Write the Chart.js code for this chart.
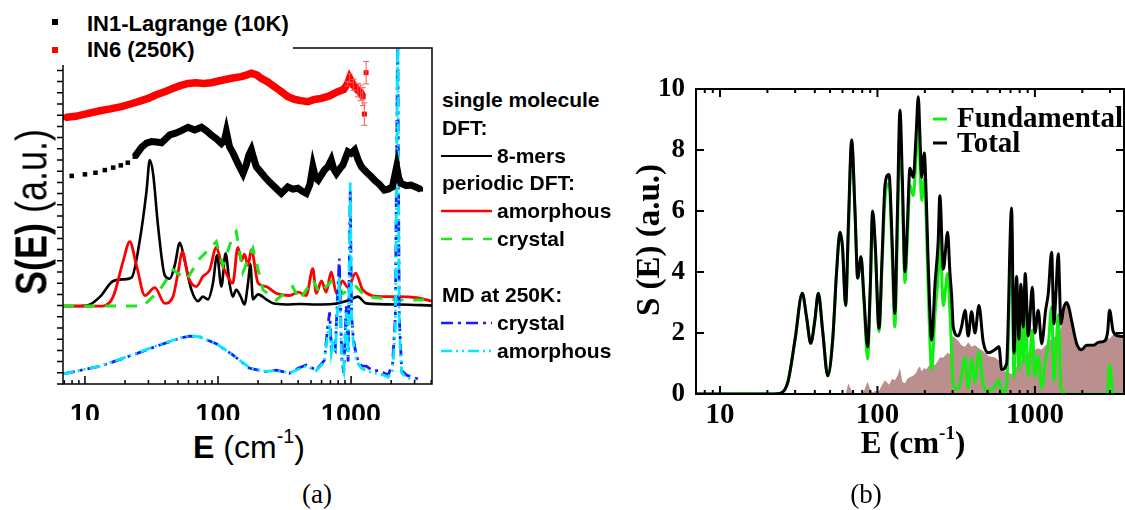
<!DOCTYPE html>
<html>
<head>
<meta charset="utf-8">
<title>S(E) spectra</title>
<script src="https://cdn.jsdelivr.net/npm/chart.js@4.4.1/dist/chart.umd.min.js"></script>
<style>
  body { margin: 0; background: #fff; }
  #fig { position: relative; width: 1125px; height: 510px; overflow: hidden; font-family: "Liberation Sans", Arial, sans-serif; color: #000; }
  canvas { position: absolute; }
  #chartA { left: 0; top: 0; }
  #chartB { left: 640px; top: 60px; }
  .abs { position: absolute; white-space: nowrap; }
  .lgA { font-weight: bold; font-size: 22px; line-height: 22px; }
  .lgR { font-weight: bold; font-size: 21px; line-height: 21px; }
  .serif { font-family: "Liberation Serif", "Times New Roman", serif; }
  sup { font-size: 0.62em; vertical-align: 0; position: relative; top: -0.75em; }
</style>
</head>
<body>
<div id="fig">
  <canvas id="chartA" width="440" height="420"></canvas>
  <canvas id="chartB" width="485" height="374"></canvas>

  <!-- legend of panel (a), top left (covers the frame there) -->
  <div class="abs" style="left:0;top:0;width:293px;height:65px;background:#fff"></div>
  <div class="abs" style="left:52px;top:19px;width:6px;height:6px;background:#000"></div>
  <div class="abs lgA" style="left:87px;top:13px">IN1-Lagrange (10K)</div>
  <div class="abs" style="left:52px;top:47px;width:6px;height:6px;background:#f00"></div>
  <div class="abs lgA" style="left:87px;top:39px">IN6 (250K)</div>

  <!-- legend of panel (a), right -->
  <svg class="abs" style="left:436px;top:140px" width="62" height="230">
    <line x1="5" y1="16" x2="56" y2="16" stroke="#000" stroke-width="2"/>
    <line x1="5" y1="71" x2="56" y2="71" stroke="#f00" stroke-width="2.5"/>
    <line x1="5" y1="99" x2="56" y2="99" stroke="#1ee61e" stroke-width="2.5" stroke-dasharray="11,10"/>
    <line x1="5" y1="183" x2="56" y2="183" stroke="#1a1aff" stroke-width="2.5" stroke-dasharray="12,5,3,5"/>
    <line x1="5" y1="211" x2="56" y2="211" stroke="#00e8ff" stroke-width="2.5" stroke-dasharray="11,4,2,4,2,4"/>
  </svg>
  <div class="abs lgR" style="left:442px;top:89px">single molecule</div>
  <div class="abs lgR" style="left:442px;top:117px">DFT:</div>
  <div class="abs lgR" style="left:497px;top:145px">8-mers</div>
  <div class="abs lgR" style="left:442px;top:172px">periodic DFT:</div>
  <div class="abs lgR" style="left:497px;top:200px">amorphous</div>
  <div class="abs lgR" style="left:497px;top:228px">crystal</div>
  <div class="abs lgR" style="left:442px;top:284px">MD at 250K:</div>
  <div class="abs lgR" style="left:497px;top:312px">crystal</div>
  <div class="abs lgR" style="left:497px;top:340px">amorphous</div>

  <!-- axis titles panel (a) -->
  <div class="abs" style="left:31px;top:212px;font-size:45px;line-height:45px;transform:translate(-50%,-50%) rotate(-90deg) scaleX(0.8)"><b>S(E)</b> (a.u.)</div>
  <div class="abs" style="left:249px;top:431px;font-size:32px;line-height:32px;transform:translateX(-50%)"><b>E</b> (cm<sup>-1</sup>)</div>

  <!-- legend of panel (b) -->
  <svg class="abs" style="left:930px;top:110px" width="20" height="40">
    <line x1="3" y1="9" x2="17" y2="9" stroke="#11ee11" stroke-width="3"/>
    <line x1="3" y1="33" x2="17" y2="33" stroke="#000" stroke-width="3"/>
  </svg>
  <div class="abs serif" style="left:957px;top:103px;font-size:29px;line-height:29px;font-weight:bold">Fundamental</div>
  <div class="abs serif" style="left:957px;top:128px;font-size:29px;line-height:29px;font-weight:bold">Total</div>

  <!-- axis titles panel (b) -->
  <div class="abs serif" style="left:648px;top:240px;font-size:33px;line-height:33px;font-weight:bold;transform:translate(-50%,-50%) rotate(-90deg)">S (E) (a.u.)</div>
  <div class="abs serif" style="left:913px;top:427px;font-size:31px;line-height:31px;font-weight:bold;transform:translateX(-50%)">E (cm<sup>-1</sup>)</div>

  <div class="abs serif" style="left:317px;top:481px;font-size:27px;line-height:27px;transform:translateX(-50%)">(a)</div>
  <div class="abs serif" style="left:866px;top:481px;font-size:27px;line-height:27px;transform:translateX(-50%)">(b)</div>
</div>

<script>
// ---------- panel (a) data ----------
const xTicks = [10, 100, 1000]

// IN6 (250K), red squares
const in6E = [7.08, 8.5, 10.6, 13, 15.5, 18.8, 22, 25.5, 29.9, 34, 39.8, 46, 52, 59.6, 68, 78, 89, 105, 126, 150,
  165, 178, 195, 211, 235, 266, 300, 335, 380, 420, 473, 530, 596, 680, 795, 880, 940, 975, 1040, 1125, 1180, 1224]
const in6S = [11.9, 11.95, 12.08, 12.2, 12.28, 12.38, 12.5, 12.62, 12.75, 12.9, 13.05, 13.2, 13.32, 13.42, 13.45, 13.42, 13.45, 13.55, 13.65, 13.72,
  13.8, 13.87, 13.8, 13.65, 13.5, 13.27, 13.05, 12.83, 12.7, 12.65, 12.6, 12.7, 12.75, 12.85, 13.05, 13.15, 13.4, 13.65, 13.35, 13.12, 13.0, 12.83]
const in6Err = [0, 0, 0, 0, 0, 0, 0, 0, 0, 0, 0, 0, 0, 0, 0, 0, 0, 0, 0, 0,
  0, 0, 0, 0, 0, 0, 0, 0, 0, 0, 0, 0, 0, 0, 0, 0, 0.1, 0.2, 0.25, 0.3, 0.35, 0.4]
const in6TailE = [1259, 1297]
const in6TailS = [12.05, 13.9]
const in6TailErr = [0.5, 0.5]

// IN1-Lagrange (10K), black squares
const in1E = [7.95, 10, 12, 14.1, 16.3, 18.6, 21, 23.7, 26.6, 29, 31.6, 34.5, 37.6, 40.5, 43.4, 48, 53, 59.6, 66.8, 75,
  82, 89, 97, 106, 112, 115.5, 122, 130, 137, 145, 154, 163, 170, 178, 186, 194, 210, 224, 245, 266,
  299, 335, 365, 398, 430, 460, 490, 516, 540, 565, 600, 631, 670, 709, 740, 776, 820, 868, 910, 947,
  1000, 1064, 1130, 1195, 1260, 1337, 1420, 1500, 1640, 1778, 1900, 2045, 2200, 2280, 2371, 2600, 2820, 3050, 3340]
const in1S = [9.29, 9.36, 9.43, 9.55, 9.66, 9.76, 9.88, 10.15, 10.56, 10.75, 10.82, 10.8, 10.77, 10.95, 11.12, 11.2, 11.31, 11.46, 11.34, 11.46,
  11.3, 11.12, 10.95, 10.74, 10.9, 11.26, 10.59, 10.3, 10.0, 9.7, 9.4, 9.78, 10.2, 10.45, 10.05, 9.7, 9.45, 9.25, 9.0, 8.8,
  8.51, 8.8, 8.7, 8.74, 8.6, 8.51, 8.9, 9.7, 9.2, 9.1, 9.35, 9.55, 9.7, 10.0, 9.6, 9.4, 9.6, 9.78, 10.1, 10.37,
  10.3, 10.45, 10.0, 9.7, 9.55, 9.4, 9.25, 9.1, 8.9, 8.66, 8.7, 8.8, 9.7, 9.2, 8.96, 8.85, 8.88, 8.8, 8.69]

// single molecule DFT, 8-mers
const merE = [6.84, 9.2, 10.9, 13, 16.3, 19.4, 22.4, 25.8, 29, 30.7, 32.5, 35.5, 39.8, 43.4, 47.3, 51.6, 56.2, 63.1, 70.8, 77,
  84, 91.6, 98.3, 106, 114, 122, 129, 137, 148, 158, 168, 175, 183, 200, 230, 259, 324, 410, 547, 728,
  977, 1125, 1295, 2326, 4055]
const merS = [3.48, 3.48, 3.55, 3.9, 4.6, 4.67, 4.75, 6.4, 8.6, 10.0, 9.4, 7.0, 4.85, 4.7, 5.3, 6.3, 5.5, 4.2, 3.7, 3.9,
  3.78, 4.5, 5.75, 4.35, 5.83, 4.5, 3.9, 4.2, 3.9, 3.55, 4.5, 5.35, 3.78, 4.0, 3.78, 3.6, 3.55, 3.57, 3.55, 3.57,
  3.75, 3.9, 3.6, 3.55, 3.5]

// periodic DFT, amorphous
const amoE = [6.84, 13.6, 16.3, 19.4, 21.7, 24.4, 28.2, 33.5, 39.8, 45.9, 50, 54, 59.6, 68.7, 77, 86.6, 97, 106, 115, 129,
  141, 150, 158, 168, 178, 200, 230, 274, 345, 400, 460, 516, 547, 600, 650, 709, 776, 860, 950, 1081,
  1224, 1718, 2326, 3095, 4055]
const amoS = [3.48, 3.48, 3.9, 5.5, 6.35, 5.3, 3.95, 4.3, 3.6, 3.9, 4.95, 5.9, 4.8, 4.35, 4.8, 5.1, 6.1, 5.4, 4.95, 4.5,
  6.1, 5.5, 5.8, 5.3, 6.0, 4.5, 4.35, 4.05, 3.95, 4.1, 3.95, 5.15, 4.05, 4.6, 4.1, 5.0, 4.05, 4.6, 4.3, 4.95,
  4.2, 3.9, 3.9, 3.85, 3.7]

// periodic DFT, crystal
const cryE = [6.84, 27.4, 36.5, 45.9, 57.8, 73, 97, 109, 129, 137, 154, 183, 218, 274, 364, 410, 516, 579, 728, 868,
  1090, 1295, 2326, 4055]
const cryS = [3.48, 3.48, 4.2, 5.1, 4.65, 5.6, 6.35, 5.3, 6.6, 6.8, 5.0, 6.05, 4.2, 3.75, 4.35, 3.75, 4.65, 4.05, 4.65, 4.05,
  4.35, 3.9, 3.75, 3.75]

// MD at 250K
const mdE = [6.84, 13, 23, 36.5, 51.6, 61.2, 73, 97, 129, 173, 230, 274, 345, 400, 460, 547, 600, 631, 668, 690,
  710, 728, 760, 815, 850, 880, 920, 950, 985, 1010, 1040, 1100, 1200, 1300, 1450, 1600, 1750, 1900, 2050, 2150,
  2240, 2300, 2400, 2600, 2900, 3300]
const mdCryS = [0.45, 0.79, 1.3, 1.74, 2.04, 2.14, 2.1, 1.8, 1.3, 0.7, 0.55, 0.62, 0.48, 0.7, 0.85, 0.62, 0.9, 1.07, 2.6, 3.2,
  1.6, 1.66, 1.5, 5.6, 1.2, 0.5, 3.5, 1.0, 8.6, 3.0, 2.0, 1.2, 0.8, 0.8, 0.6, 0.6, 0.5, 0.4, 0.9, 3.0,
  16, 3.0, 0.6, 0.4, 0.3, 0.2]
const mdAmoS = [0.45, 0.8, 1.32, 1.76, 2.05, 2.16, 2.1, 1.8, 1.3, 0.72, 0.56, 0.6, 0.5, 0.65, 0.8, 0.6, 0.85, 1.0, 2.3, 2.7,
  1.4, 1.8, 1.4, 4.8, 1.0, 0.6, 3.2, 1.2, 9.0, 2.8, 1.8, 1.0, 0.7, 0.6, 0.5, 0.45, 0.4, 0.3, 0.6, 2.5,
  16, 2.5, 0.5, 0.3, 0.2, 0.15]

// ---------- panel (b) data ----------
const bE = [7.04, 20, 24, 27, 30, 33.3, 35.5, 37.7, 40, 42.1,
  45, 48.3, 52, 55, 57.8, 60, 62.8, 65.3, 68.6, 72,
  74.9, 78.6, 82, 86.6, 90, 93.2, 97, 102.3, 107, 111.7,
  118.4, 124, 129, 134, 139, 144, 149.6, 155, 160.8, 169,
  176, 181.7, 186, 190.8, 198.3, 204, 210, 221, 232, 243,
  249, 262, 279, 288.5, 296, 303, 326, 342, 360, 377,
  396, 416, 441, 470, 506, 557, 591, 615, 661, 711,
  736, 765, 791, 815, 843, 868, 908, 963, 1000, 1050,
  1104, 1170, 1216, 1277, 1321, 1360, 1407, 1464, 1520, 1592,
  1650, 1711, 1842, 1983, 2130, 2349, 2550, 2719, 2891, 2980,
  3143, 3400, 3680]
const bTotal = [0, 0, 0.02, 0.4, 1.8, 3.3, 2.5, 1.66, 2.4, 3.3,
  2.0, 0.6, 1.8, 4.0, 5.3, 4.8, 2.9, 5.5, 8.33, 6.0,
  3.8, 4.5, 3.2, 1.55, 3.5, 6.0, 4.8, 2.15, 4.5, 6.85,
  7.2, 5.0, 2.64, 6.0, 9.3, 7.0, 4.0, 5.6, 7.4, 7.1,
  8.5, 9.75, 8.5, 7.1, 7.9, 6.5, 4.3, 1.77, 3.6, 5.0,
  6.5, 4.1, 5.3, 4.0, 3.2, 2.2, 1.9, 2.2, 2.75, 1.9,
  2.7, 2.0, 2.9, 1.7, 1.35, 1.45, 1.55, 0.8, 1.0, 6.1,
  1.35, 3.85, 1.8, 3.6, 2.2, 3.95, 1.9, 3.5, 2.0, 2.75,
  1.65, 2.75, 3.3, 4.65, 2.3, 3.3, 4.6, 2.3, 2.8, 3.0,
  2.8, 2.4, 1.65, 1.45, 1.6, 1.6, 1.7, 1.72, 2.0, 2.75,
  2.05, 1.9, 1.88]
const bFund = [0, 0, 0.02, 0.4, 1.8, 3.3, 2.5, 1.66, 2.4, 3.3,
  2.0, 0.6, 1.8, 4.0, 5.3, 4.8, 2.9, 5.15, 8.2, 6.0,
  3.8, 4.5, 3.1, 1.15, 3.35, 5.95, 4.7, 2.05, 4.2, 6.4,
  6.9, 4.5, 2.2, 5.4, 8.45, 6.6, 3.65, 5.1, 6.85, 6.5,
  7.8, 8.9, 7.6, 6.35, 7.05, 5.7, 3.4, 0.8, 2.65, 3.9,
  5.3, 2.9, 3.95, 2.7, 1.35, 0.3, 0.15, 0.6, 1.2, 0.2,
  1.15, 0.4, 1.4, 0.3, 0.1, 0.25, 0.45, 0.05, 0.25, 5.45,
  0.55, 2.95, 0.8, 2.5, 1.0, 2.65, 0.6, 2.1, 0.55, 1.25,
  0.2, 1.15, 1.6, 2.85, 0.45, 1.4, 2.6, 0.15, 0.05, 0,
  0, 0, 0, 0, 0, 0, 0, 0, 0.05, 0.95,
  0, 0, 0]
const bOver = [0, 0, 0, 0, 0, 0, 0, 0, 0, 0,
  0, 0, 0, 0, 0, 0, 0, 0.35, 0.1, 0,
  0, 0, 0.1, 0.4, 0.15, 0.05, 0.1, 0.1, 0.3, 0.45,
  0.3, 0.5, 0.45, 0.6, 0.85, 0.4, 0.35, 0.5, 0.55, 0.6,
  0.7, 0.85, 0.9, 0.75, 0.85, 0.8, 0.9, 1.0, 0.95, 1.1,
  1.2, 1.2, 1.35, 1.3, 1.85, 1.9, 1.75, 1.6, 1.55, 1.7,
  1.55, 1.6, 1.5, 1.4, 1.25, 1.2, 1.1, 0.75, 0.75, 0.65,
  0.8, 0.9, 1.0, 1.1, 1.2, 1.3, 1.3, 1.4, 1.45, 1.5,
  1.45, 1.6, 1.7, 1.8, 1.85, 1.9, 2.0, 2.15, 2.75, 2.95,
  2.75, 2.35, 1.6, 1.4, 1.55, 1.55, 1.65, 1.7, 1.85, 1.8,
  1.95, 1.85, 1.82]
const bYTicks = [0, 2, 4, 6, 8, 10]

const pts = (xs, ys) => xs.map((x, i) => ({ x: x, y: ys[i] }))

// tick marks on a log axis: every m*10^e inside the range
function logTicks(scale, draw) {
  for (let e = 0; e <= 3; e++) {
    for (let m = 1; m <= 9; m++) {
      const v = m * Math.pow(10, e)
      if (v < scale.min || v > scale.max) continue
      draw(scale.getPixelForValue(v), m === 1)
    }
  }
}

// frame, ticks and error bars for panel (a)
const frameA = {
  id: 'frameA',
  afterDraw(chart) {
    const { ctx, chartArea: a, scales: { x, y } } = chart
    ctx.save()
    ctx.strokeStyle = '#000'
    ctx.lineWidth = 1.5
    ctx.strokeRect(a.left, a.top, a.right - a.left, a.bottom - a.top)
    ctx.beginPath()
    for (let v = 0; v <= 15; v += 0.5) {
      const p = y.getPixelForValue(v)
      ctx.moveTo(a.left - 6, p)
      ctx.lineTo(a.left, p)
    }
    logTicks(x, (p, major) => {
      ctx.moveTo(p, a.bottom)
      ctx.lineTo(p, a.bottom - (major ? 8 : 4))
    })
    ctx.stroke()

    // error bars on IN6
    ctx.strokeStyle = '#ff5a5a'
    ctx.lineWidth = 1
    const bars = [[in6E, in6S, in6Err], [in6TailE, in6TailS, in6TailErr]]
    bars.forEach(([es, ss, errs]) => {
      es.forEach((e, i) => {
        if (!errs[i]) return
        const px = x.getPixelForValue(e)
        const top = y.getPixelForValue(ss[i] + errs[i])
        const bot = y.getPixelForValue(ss[i] - errs[i])
        ctx.beginPath()
        ctx.moveTo(px, top); ctx.lineTo(px, bot)
        ctx.moveTo(px - 3, top); ctx.lineTo(px + 3, top)
        ctx.moveTo(px - 3, bot); ctx.lineTo(px + 3, bot)
        ctx.stroke()
      })
    })
    ctx.restore()
  }
}

// frame and inward ticks for panel (b)
const frameB = {
  id: 'frameB',
  afterDraw(chart) {
    const { ctx, chartArea: a, scales: { x, y } } = chart
    ctx.save()
    ctx.strokeStyle = '#000'
    ctx.lineWidth = 2
    ctx.strokeRect(a.left, a.top, a.right - a.left, a.bottom - a.top)
    ctx.beginPath()
    logTicks(x, (p, major) => {
      const len = major ? 8 : 4
      ctx.moveTo(p, a.bottom); ctx.lineTo(p, a.bottom - len)
      ctx.moveTo(p, a.top); ctx.lineTo(p, a.top + len)
    })
    bYTicks.forEach(v => {
      const p = y.getPixelForValue(v)
      ctx.moveTo(a.left, p); ctx.lineTo(a.left + 8, p)
      ctx.moveTo(a.right, p); ctx.lineTo(a.right - 8, p)
    })
    ctx.stroke()
    ctx.restore()
  }
}

const sansBold = (size) => ({ family: 'Liberation Sans', size: size, weight: 'bold' })
const serifBold = (size) => ({ family: 'Liberation Serif', size: size, weight: 'bold' })

new Chart(document.getElementById('chartA'), {
  type: 'line',
  data: {
    datasets: [
      {
        label: 'IN6 (250K)', data: pts(in6E, in6S),
        borderColor: '#ff0000', borderWidth: 7.5, pointStyle: 'rect', pointRadius: 4,
        pointBackgroundColor: '#ff0000', pointBorderWidth: 0,
      },
      {
        label: 'IN6 (250K) tail', data: pts(in6TailE, in6TailS), showLine: false,
        pointStyle: 'rect', pointRadius: 3.5, pointBackgroundColor: '#ff0000', pointBorderWidth: 0,
      },
      {
        label: 'IN1-Lagrange (10K)', data: pts(in1E, in1S),
        borderColor: '#000', borderWidth: 7, pointStyle: 'rect', pointRadius: 3.2,
        pointBackgroundColor: '#000', pointBorderWidth: 0,
        segment: { borderColor: (c) => (c.p1.parsed.x < 25 ? 'rgba(0,0,0,0)' : '#000') },
      },
      {
        label: 'MD amorphous', data: pts(mdE, mdAmoS),
        borderColor: '#00e8ff', borderWidth: 2.8, borderDash: [11, 4, 2, 4, 2, 4],
      },
      {
        label: 'MD crystal', data: pts(mdE, mdCryS),
        borderColor: '#1a1aff', borderWidth: 2.8, borderDash: [12, 5, 3, 5],
      },
      {
        label: 'periodic DFT crystal', data: pts(cryE, cryS),
        borderColor: '#1ee61e', borderWidth: 3, borderDash: [11, 10],
      },
      {
        label: 'periodic DFT amorphous', data: pts(amoE, amoS),
        borderColor: '#ff0000', borderWidth: 2.8, cubicInterpolationMode: 'monotone',
      },
      {
        label: '8-mers', data: pts(merE, merS),
        borderColor: '#000', borderWidth: 2.6, cubicInterpolationMode: 'monotone',
      },
    ],
  },
  options: {
    responsive: false,
    animation: false,
    events: [],
    layout: { padding: { left: 0, top: 48, right: 8, bottom: 0 } },
    plugins: { legend: { display: false }, tooltip: { enabled: false } },
    elements: { point: { radius: 0 }, line: { tension: 0 } },
    scales: {
      x: {
        type: 'logarithmic', min: 6.84, max: 4055,
        grid: { display: false }, border: { display: false },
        afterBuildTicks: (s) => { s.ticks = xTicks.map((v) => ({ value: v })) },
        afterFit: (s) => { s.height = 36 },
        ticks: {
          autoSkip: false, maxRotation: 0, padding: 7, color: '#000',
          font: sansBold(27), callback: (v) => String(v),
        },
      },
      y: {
        min: 0, max: 15,
        grid: { display: false }, border: { display: false },
        ticks: { display: false },
        afterFit: (s) => { s.width = 63 },
      },
    },
  },
  plugins: [frameA],
})

new Chart(document.getElementById('chartB'), {
  type: 'line',
  data: {
    datasets: [
      {
        label: 'Total', data: pts(bE, bTotal),
        borderColor: '#000', borderWidth: 3, cubicInterpolationMode: 'monotone',
      },
      {
        label: 'Fundamental', data: pts(bE, bFund),
        borderColor: '#11ee11', borderWidth: 3, cubicInterpolationMode: 'monotone',
      },
      {
        label: 'Overtones', data: pts(bE, bOver),
        borderWidth: 0, backgroundColor: '#bc8f8f', fill: 'origin',
      },
    ],
  },
  options: {
    responsive: false,
    animation: false,
    events: [],
    layout: { padding: { left: 0, top: 29, right: 1, bottom: 0 } },
    plugins: { legend: { display: false }, tooltip: { enabled: false } },
    elements: { point: { radius: 0 }, line: { tension: 0 } },
    scales: {
      x: {
        type: 'logarithmic', min: 7.04, max: 3680,
        grid: { display: false }, border: { display: false },
        afterBuildTicks: (s) => { s.ticks = xTicks.map((v) => ({ value: v })) },
        afterFit: (s) => { s.height = 40 },
        ticks: {
          autoSkip: false, maxRotation: 0, padding: -4, color: '#000',
          font: serifBold(29), callback: (v) => String(v),
        },
      },
      y: {
        min: 0, max: 10,
        grid: { display: false }, border: { display: false },
        afterBuildTicks: (s) => { s.ticks = bYTicks.map((v) => ({ value: v })) },
        afterFit: (s) => { s.width = 56 },
        ticks: { padding: 3, color: '#000', font: serifBold(27) },
      },
    },
  },
  plugins: [frameB],
})
</script>
</body>
</html>
